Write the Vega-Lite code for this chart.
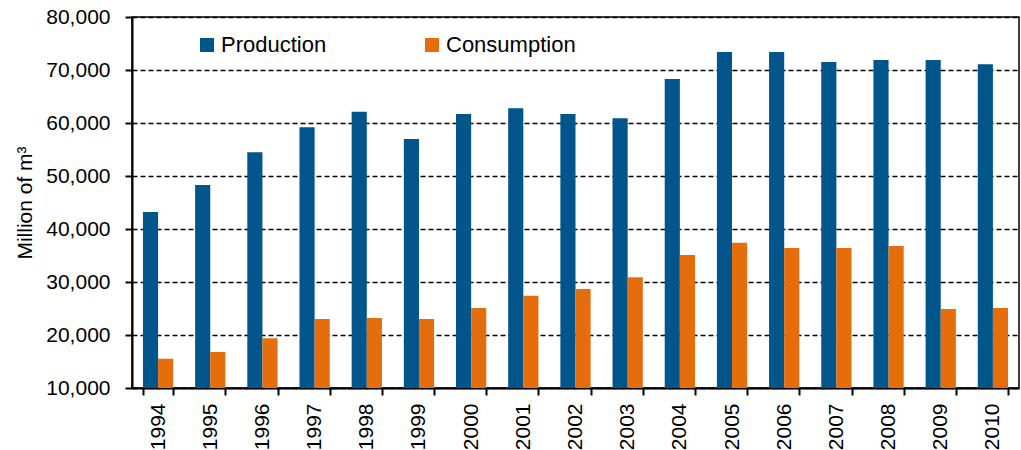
{
  "$schema": "https://vega.github.io/schema/vega-lite/v6.json",
  "autosize": "none",
  "width": 887,
  "height": 371,
  "padding": {"left": 132, "top": 17, "right": 2, "bottom": 62},
  "background": "white",
  "config": {
    "font": "Liberation Sans",
    "view": {"stroke": "black", "strokeWidth": 1.5},
    "axis": {"labelFont": "Liberation Sans", "titleFont": "Liberation Sans", "labelColor": "black", "titleColor": "black"}
  },
  "data": {
    "values": [
      {"year": "1994", "series": "Production", "value": 43200},
      {"year": "1995", "series": "Production", "value": 48300},
      {"year": "1996", "series": "Production", "value": 54500},
      {"year": "1997", "series": "Production", "value": 59200},
      {"year": "1998", "series": "Production", "value": 62100},
      {"year": "1999", "series": "Production", "value": 57000},
      {"year": "2000", "series": "Production", "value": 61700},
      {"year": "2001", "series": "Production", "value": 62800},
      {"year": "2002", "series": "Production", "value": 61700},
      {"year": "2003", "series": "Production", "value": 60900},
      {"year": "2004", "series": "Production", "value": 68300},
      {"year": "2005", "series": "Production", "value": 73400},
      {"year": "2006", "series": "Production", "value": 73400},
      {"year": "2007", "series": "Production", "value": 71500},
      {"year": "2008", "series": "Production", "value": 71900},
      {"year": "2009", "series": "Production", "value": 71900},
      {"year": "2010", "series": "Production", "value": 71100},
      {"year": "1994", "series": "Consumption", "value": 15500},
      {"year": "1995", "series": "Consumption", "value": 16800},
      {"year": "1996", "series": "Consumption", "value": 19400},
      {"year": "1997", "series": "Consumption", "value": 23000},
      {"year": "1998", "series": "Consumption", "value": 23200},
      {"year": "1999", "series": "Consumption", "value": 23000},
      {"year": "2000", "series": "Consumption", "value": 25100},
      {"year": "2001", "series": "Consumption", "value": 27400},
      {"year": "2002", "series": "Consumption", "value": 28700},
      {"year": "2003", "series": "Consumption", "value": 30900},
      {"year": "2004", "series": "Consumption", "value": 35100},
      {"year": "2005", "series": "Consumption", "value": 37400},
      {"year": "2006", "series": "Consumption", "value": 36400},
      {"year": "2007", "series": "Consumption", "value": 36400},
      {"year": "2008", "series": "Consumption", "value": 36800},
      {"year": "2009", "series": "Consumption", "value": 24900},
      {"year": "2010", "series": "Consumption", "value": 25100}
    ]
  },
  "mark": {"type": "bar", "clip": true},
  "encoding": {
    "x": {
      "field": "year",
      "type": "nominal",
      "scale": {"paddingInner": 0.42, "paddingOuter": 0.21},
      "axis": {
        "title": null,
        "labelAngle": -90,
        "labelAlign": "right",
        "labelBaseline": "middle",
        "labelFontSize": 21,
        "labelPadding": 8,
        "tickBand": "extent",
        "tickSize": 7,
        "tickWidth": 2,
        "tickColor": "black",
        "domainColor": "black",
        "domainWidth": 2,
        "grid": false
      }
    },
    "xOffset": {
      "field": "series",
      "type": "nominal",
      "sort": ["Production", "Consumption"],
      "scale": {"paddingInner": 0, "paddingOuter": 0}
    },
    "y": {
      "field": "value",
      "type": "quantitative",
      "scale": {"domain": [10000, 80000], "nice": false, "zero": false},
      "axis": {
        "title": "Million of m³",
        "titleFontSize": 21,
        "titleFontWeight": "normal",
        "titlePadding": 10,
        "values": [10000, 20000, 30000, 40000, 50000, 60000, 70000, 80000],
        "format": ",.0f",
        "labelFontSize": 21,
        "labelPadding": 15,
        "tickSize": 7,
        "tickWidth": 2,
        "tickColor": "black",
        "domainColor": "black",
        "domainWidth": 2,
        "grid": true,
        "gridColor": "black",
        "gridDash": [5, 3],
        "gridWidth": 1.3
      }
    },
    "color": {
      "field": "series",
      "type": "nominal",
      "sort": ["Production", "Consumption"],
      "scale": {"domain": ["Production", "Consumption"], "range": ["#00558B", "#E56D0C"]},
      "legend": {
        "title": null,
        "orient": "none",
        "direction": "horizontal",
        "columns": 2,
        "legendX": 64,
        "legendY": 17,
        "symbolType": "square",
        "symbolSize": 196,
        "symbolStrokeWidth": 0,
        "symbolOpacity": 1,
        "labelFontSize": 22,
        "labelOffset": 3,
        "labelColor": "black",
        "columnPadding": 94
      }
    }
  }
}
